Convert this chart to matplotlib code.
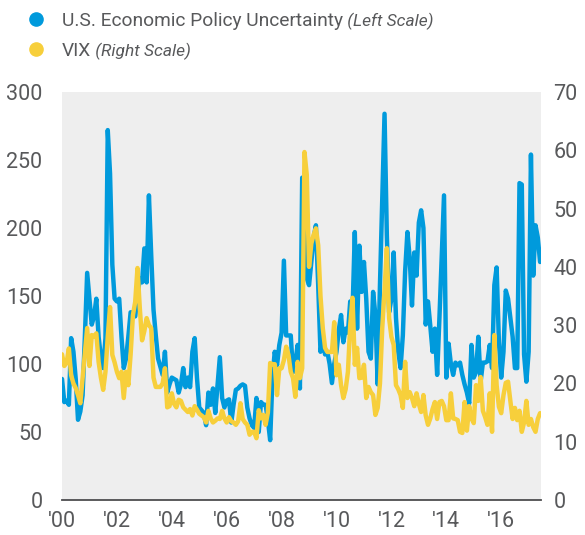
import numpy as np
import matplotlib.pyplot as plt
from matplotlib.lines import Line2D

# monthly values, Jan 2000 onwards
epu = [89, 72, 73, 70, 119, 109, 89, 59, 65, 77, 120, 167,
       148, 129, 135, 148, 120, 105, 97, 119, 272, 240, 173, 148,
       146, 148, 120, 97, 104, 120, 138, 138, 135, 150, 163, 160,
       185, 160, 224, 180, 140, 121, 104, 98, 92, 109, 79, 85,
       90, 89, 88, 79, 85, 97, 83, 90, 83, 109, 119, 90,
       68, 66, 64, 55, 79, 70, 82, 64, 85, 105, 75, 68,
       73, 74, 57, 70, 81, 82, 84, 85, 84, 68, 60, 55,
       53, 75, 50, 72, 70, 70, 59, 44, 90, 109, 99, 114,
       123, 176, 121, 121, 121, 94, 101, 114, 82, 237, 230, 163,
       158, 175, 193, 202, 158, 109, 119, 107, 109, 100, 86, 100,
       109, 125, 136, 116, 126, 123, 146, 138, 197, 126, 187, 153,
       175, 148, 109, 104, 153, 136, 85, 158, 220, 284, 195, 138,
       148, 182, 134, 109, 97, 121, 168, 197, 178, 143, 182, 165,
       204, 213, 200, 129, 146, 128, 109, 126, 92, 134, 180, 224,
       90, 115, 100, 92, 101, 99, 101, 92, 85, 79, 71, 114,
       90, 94, 120, 87, 101, 101, 102, 114, 97, 158, 171, 116,
       90, 109, 154, 148, 134, 120, 97, 97, 233, 232, 107, 87,
       109, 254, 165, 202, 193, 175]

vix = [25, 23, 23.5, 26, 21.4, 20, 19.2, 18, 16.6, 20.9, 25, 29.5,
       23, 28.3, 28, 28.6, 23.7, 21, 18.9, 22, 28, 33.1, 24.9, 23.6,
       22, 20.9, 22, 17.5, 22, 19.7, 25, 31.7, 34, 39.8, 33, 27.4,
       29, 31.2, 30, 29.5, 21, 19.4, 19.4, 19.4, 20, 22.6, 15.9, 16.1,
       18.3, 16.5, 15.9, 17.2, 17, 15.9, 15.5, 15.1, 15.6, 14.5, 16.1, 15.5,
       14.8, 14.5, 14.2, 13.3, 15.3, 14, 13.3, 13.6, 14, 13.9, 15.3, 14,
       13.3, 14.2, 13.5, 13.3, 12.9, 13.5, 16.6, 13.9, 13.3, 12.9, 11.2, 11.7,
       11.7, 10.6, 15.4, 14, 14.6, 12.9, 15, 23.5, 23.3, 23.3, 18, 22.6,
       22.6, 24, 26.3, 24.9, 22, 20.9, 17.7, 23.7, 20.9, 22.6, 59.7, 55.8,
       40, 44, 45.5, 46.6, 43.7, 35, 29.5, 26.1, 25.4, 25.4, 25.4, 30.5,
       21.4, 23.2, 19.7, 17.5, 19, 22, 30, 34.7, 23.2, 26.1, 20.9, 21,
       23.2, 17.5, 19.4, 18.5, 18, 14.6, 15.8, 20, 29.5, 36, 43.2, 31.2,
       28, 26.6, 19.7, 19, 18, 15.8, 23.7, 17.5, 18.5, 17.5, 16.1, 18.3,
       16.5, 15.1, 18, 14.5, 12.9, 14, 15.6, 16.8, 13.9, 16.8, 17, 16.1,
       13.7, 13.7, 18.3, 14, 13.9, 13.7, 11.7, 11.5, 16.8, 11.9, 16.1, 14,
       13.2, 19.7, 17, 21.1, 15.3, 14.2, 12.9, 18.3, 11.7, 28.3, 19.7, 16,
       14.9, 18, 20.1, 20.3, 17, 13.9, 15.8, 13.7, 15.3, 11.7, 13.3, 17,
       12.9, 13.9, 12.5, 11.7, 13.9, 14.9]

years = [2000, 2002, 2004, 2006, 2008, 2010, 2012, 2014, 2016]
year_labels = ["'00", "'02", "'04", "'06", "'08", "'10", "'12", "'14", "'16"]
left_ticks = [0, 50, 100, 150, 200, 250, 300]
right_ticks = [0, 10, 20, 30, 40, 50, 60, 70]

blue = '#009ADC'
yellow = '#F7CF3B'
grey = '#58595B'

plt.rcParams['font.family'] = ['Roboto', 'DejaVu Sans']

x = 2000 + np.arange(len(epu)) / 12.0

fig = plt.figure(figsize=(5.85, 5.35), dpi=100)
ax = fig.add_axes([62 / 585, 1 - 500 / 535, 479 / 585, 408 / 535])
ax.set_facecolor('#EEEEEE')
ax.plot(x, epu, color=blue, lw=3.2, solid_joinstyle='round', solid_capstyle='round')
ax.set_xlim(2000.0, 2017.45)
ax.set_ylim(0, 300)

ax2 = ax.twinx()
ax2.plot(x, vix, color=yellow, lw=3.2, solid_joinstyle='round', solid_capstyle='round')
ax2.set_ylim(0, 70)

ax.set_xticks(years)
ax.set_xticklabels(year_labels)
ax.set_yticks(left_ticks)
ax2.set_yticks(right_ticks)

for a in (ax, ax2):
    for s in a.spines.values():
        s.set_visible(False)
ax.spines['bottom'].set_visible(True)
ax.spines['bottom'].set_color('#4D4D4F')
ax.spines['bottom'].set_linewidth(1.3)
ax.spines['bottom'].set_zorder(5)

ax.tick_params(axis='y', length=0, pad=14, labelsize=15.5, labelcolor=grey)
ax.tick_params(axis='x', length=0, pad=8, labelsize=15.5, labelcolor=grey)
ax2.tick_params(axis='y', length=0, pad=9, labelsize=15.5, labelcolor=grey)

# legend drawn by hand (mixed roman/italic text)
for yy, col in [(19, blue), (49, yellow)]:
    fig.add_artist(Line2D([36 / 585], [1 - yy / 535], marker='o', markersize=9.5,
                          color=col, transform=fig.transFigure))

t1 = fig.text(62 / 585, 1 - 19 / 535, 'U.S. Economic Policy Uncertainty',
              fontsize=13.8, color=grey, va='center_baseline')
t2 = fig.text(62 / 585, 1 - 49 / 535, 'VIX', fontsize=13.8, color=grey,
              va='center_baseline')
ax.annotate(' (Left Scale)', xy=(1, 0), xycoords=t1, va='bottom', ha='left',
            fontsize=12.5, style='italic', color=grey, annotation_clip=False)
ax.annotate(' (Right Scale)', xy=(1, 0), xycoords=t2, va='bottom', ha='left',
            fontsize=12.5, style='italic', color=grey, annotation_clip=False)

fig.savefig('out.png', dpi=100)
